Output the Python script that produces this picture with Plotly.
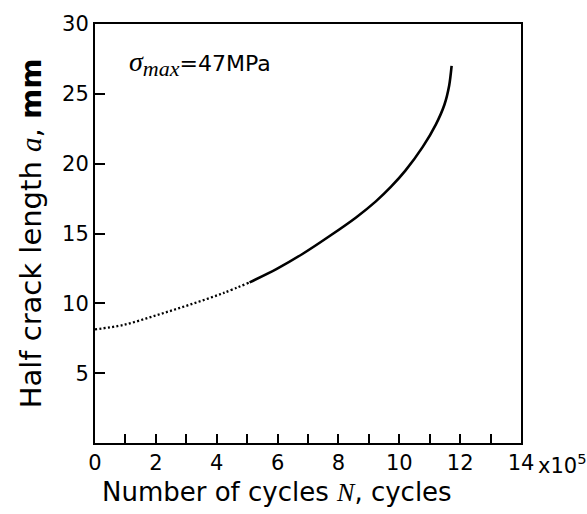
import plotly.graph_objects as go

# Data (N in units of 1e5 cycles, a in mm)
dotted_N = [0.0, 0.93, 2.02, 3.11, 4.21, 5.08]
dotted_a = [8.14, 8.45, 9.15, 9.90, 10.73, 11.50]
solid_N = [5.08, 5.96, 6.83, 7.70, 8.58, 9.23, 9.73, 10.20, 10.77, 11.20, 11.48, 11.64, 11.72]
solid_a = [11.50, 12.45, 13.55, 14.80, 16.15, 17.30, 18.35, 19.50, 21.20, 22.80, 24.20, 25.60, 27.00]

x_tickvals = [0, 2, 4, 6, 8, 10, 12, 14]
x_ticktext = ["0", "2", "4", "6", "8", "10", "12", "14"]
x_minorvals = [1, 3, 5, 7, 9, 11, 13]
y_tickvals = [5, 10, 15, 20, 25, 30]
y_ticktext = ["5", "10", "15", "20", "25", "30"]

SANS = "DejaVu Sans"
SERIF = "Liberation Serif"

fig = go.Figure()
fig.add_trace(go.Scatter(x=dotted_N, y=dotted_a, mode="lines",
                         line=dict(color="black", width=2.3, dash="2px,2.3px", shape="spline"),
                         showlegend=False))
fig.add_trace(go.Scatter(x=solid_N, y=solid_a, mode="lines",
                         line=dict(color="black", width=2.6, shape="spline", smoothing=0.8),
                         showlegend=False))

fig.update_layout(
    width=587, height=514,
    margin=dict(l=95, r=66, t=18, b=71),
    paper_bgcolor="white", plot_bgcolor="white",
    font=dict(family=SANS, color="black", size=21),
    xaxis=dict(range=[0, 14], tickvals=x_tickvals, ticktext=x_ticktext,
               ticks="inside", ticklen=9, tickwidth=1.5, tickcolor="black",
               minor=dict(tickvals=x_minorvals, ticks="inside", ticklen=9,
                          tickwidth=1.5, tickcolor="black", showgrid=False),
               showline=True, linewidth=2, linecolor="black", mirror=True,
               showgrid=False, zeroline=False,
               tickfont=dict(size=21, family=SANS)),
    yaxis=dict(range=[0, 30], tickvals=y_tickvals, ticktext=y_ticktext,
               ticks="inside", ticklen=10, tickwidth=1.5, tickcolor="black",
               showline=True, linewidth=2, linecolor="black", mirror=True,
               showgrid=False, zeroline=False,
               tickfont=dict(size=21, family=SANS),
               title=dict(text="Half crack length <span style='font-family:" + SERIF + "'><i>a</i></span>, <b>mm</b>",
                          font=dict(size=29, family=SANS), standoff=12)),
    annotations=[
        dict(text="<span style='font-family:" + SERIF + ";font-size:28px'><i>σ</i></span>"
                  "<sub><span style='font-family:" + SERIF + ";font-size:22px'><i>max</i></span></sub>=47MPa",
             xref="paper", yref="paper", x=0.075, y=0.905, xanchor="left", yanchor="middle",
             showarrow=False, font=dict(size=22, family=SANS)),
        dict(text="x10<sup>5</sup>", xref="paper", yref="paper",
             x=1.036, y=-0.05, xanchor="left", yanchor="middle",
             showarrow=False, font=dict(size=21, family=SANS)),
        dict(text="Number of cycles <span style='font-family:" + SERIF + "'><i>N</i></span>, cycles",
             xref="paper", yref="paper", x=0.427, y=-0.118, xanchor="center", yanchor="middle",
             showarrow=False, font=dict(size=26, family=SANS)),
    ],
)

fig.write_html("out.html")
